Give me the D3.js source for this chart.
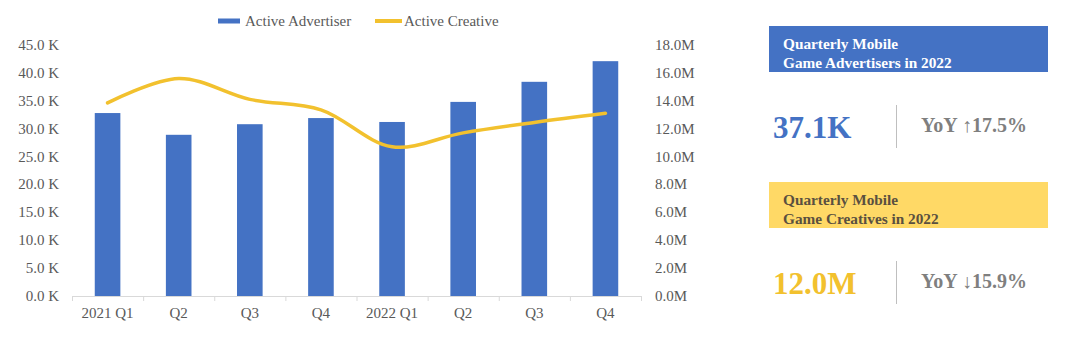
<!DOCTYPE html>
<html><head><meta charset="utf-8">
<script src="https://cdn.jsdelivr.net/npm/d3@7"></script>
<style>
html,body{margin:0;padding:0;background:#fff;}
svg{display:block;font-family:"Liberation Serif","Times New Roman",serif;}
</style></head>
<body>
<svg id="chart" width="1080" height="349"></svg>
<script>
const categories = ["2021 Q1","Q2","Q3","Q4","2022 Q1","Q2","Q3","Q4"];
const advertisers = [32.8, 28.9, 30.8, 31.9, 31.2, 34.8, 38.4, 42.1]; // thousands
const creatives = [13.85, 15.6, 14.1, 13.35, 10.7, 11.7, 12.45, 13.1]; // millions
const leftTicks = [0,5,10,15,20,25,30,35,40,45];
const rightTicks = [0,2,4,6,8,10,12,14,16,18];
const seriesNames = ["Active Advertiser","Active Creative"];
const cards = [
  {title:["Quarterly Mobile","Game Advertisers in 2022"], value:"37.1K", yoy:"YoY \u219117.5%"},
  {title:["Quarterly Mobile","Game Creatives in 2022"], value:"12.0M", yoy:"YoY \u219315.9%"}
];

const BLUE="#4472C4", GOLD="#F2C12E", GREY="#595959";
const svg = d3.select("#chart");
const x = d3.scaleBand().domain(categories.map((c,i)=>i)).range([72,641]);
const yL = d3.scaleLinear().domain([0,45]).range([296,45]);
const yR = d3.scaleLinear().domain([0,18]).range([296,45]);

// bars
const bw = x.bandwidth()*0.36;
svg.append("g").selectAll("rect").data(advertisers).join("rect")
  .attr("x",(d,i)=>x(i)+x.bandwidth()/2-bw/2)
  .attr("width",bw)
  .attr("y",d=>yL(d))
  .attr("height",d=>yL(0)-yL(d))
  .attr("fill",BLUE);

// x axis
const ax = svg.append("g");
ax.append("line").attr("x1",x.range()[0]).attr("x2",x.range()[1])
  .attr("y1",yL(0)+0.5).attr("y2",yL(0)+0.5).attr("stroke","#D9D9D9").attr("stroke-width",1);
ax.selectAll("line.tk").data(d3.range(categories.length+1)).join("line").attr("class","tk")
  .attr("x1",i=>(i<categories.length?x(i):x.range()[1])+0.5)
  .attr("x2",i=>(i<categories.length?x(i):x.range()[1])+0.5)
  .attr("y1",yL(0)).attr("y2",yL(0)+5).attr("stroke","#D9D9D9");
ax.selectAll("text").data(categories).join("text")
  .attr("x",(d,i)=>x(i)+x.bandwidth()/2).attr("y",yL(0)+22)
  .attr("text-anchor","middle").attr("font-size",15).attr("fill",GREY).text(d=>d);

// left axis labels
svg.append("g").selectAll("text").data(leftTicks).join("text")
  .attr("x",59).attr("y",d=>yL(d)+5).attr("text-anchor","end")
  .attr("font-size",15).attr("fill",GREY).text(d=>d.toFixed(1)+" K");
// right axis labels
svg.append("g").selectAll("text").data(rightTicks).join("text")
  .attr("x",655).attr("y",d=>yR(d)+5).attr("text-anchor","start")
  .attr("font-size",15).attr("fill",GREY).text(d=>d.toFixed(1)+"M");

// line
const line = d3.line().x((d,i)=>x(i)+x.bandwidth()/2).y(d=>yR(d)).curve(d3.curveCatmullRom.alpha(0.5));
svg.append("path").datum(creatives).attr("d",line).attr("fill","none")
  .attr("stroke",GOLD).attr("stroke-width",3.5).attr("stroke-linecap","round");

// legend
const lg = svg.append("g");
lg.append("rect").attr("x",218).attr("y",18.5).attr("width",22).attr("height",5).attr("fill",BLUE);
lg.append("text").attr("x",245).attr("y",26).attr("font-size",15).attr("fill",GREY).text(seriesNames[0]);
lg.append("line").attr("x1",375).attr("x2",402).attr("y1",21).attr("y2",21).attr("stroke",GOLD).attr("stroke-width",4);
lg.append("text").attr("x",404).attr("y",26).attr("font-size",15).attr("fill",GREY).text(seriesNames[1]);

// cards
const cardTop=[26,182], boxFill=[BLUE,"#FFD966"], titleFill=["#ffffff","#5a5040"], valFill=[BLUE,"#F2C12E"];
cards.forEach((c,k)=>{
  const g = svg.append("g").attr("transform",`translate(0,${cardTop[k]})`);
  g.append("rect").attr("x",769).attr("y",0).attr("width",279).attr("height",46).attr("fill",boxFill[k]);
  c.title.forEach((t,j)=>g.append("text").attr("x",783).attr("y",23+j*19)
    .attr("font-size",15.3).attr("font-weight","bold").attr("fill",titleFill[k]).text(t));
  g.append("text").attr("x",773).attr("y",112).attr("font-size",31).attr("font-weight","bold")
    .attr("fill",valFill[k]).text(c.value);
  g.append("line").attr("x1",896.5).attr("x2",896.5).attr("y1",79).attr("y2",122)
    .attr("stroke","#BFBFBF").attr("stroke-width",1);
  g.append("text").attr("x",921).attr("y",106).attr("font-size",20).attr("font-weight","bold")
    .attr("fill","#7F7F7F").text(c.yoy);
});
</script>
</body></html>
